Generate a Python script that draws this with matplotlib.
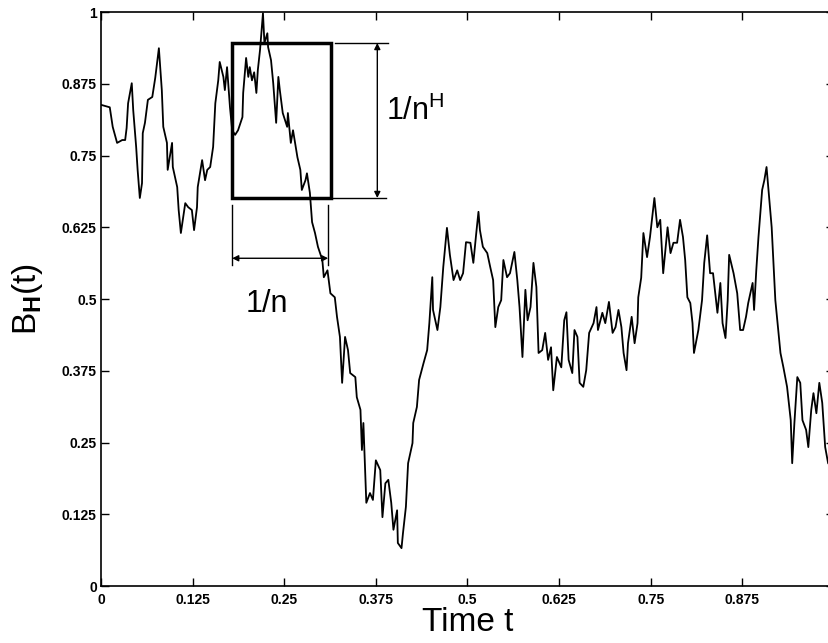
import matplotlib.pyplot as plt
from matplotlib.patches import Rectangle

plt.rcParams['font.family'] = ['Liberation Sans', 'DejaVu Sans']
plt.rcParams['mathtext.fontset'] = 'custom'
plt.rcParams['mathtext.rm'] = 'Liberation Sans'
plt.rcParams['mathtext.bf'] = 'Liberation Sans:bold'

# sample path of fractional brownian motion
t = [0.001, 0.012, 0.016, 0.022, 0.029, 0.033, 0.035, 0.037, 0.042, 0.044,
     0.048, 0.050, 0.053, 0.056, 0.057, 0.060, 0.064, 0.070, 0.074, 0.079,
     0.083, 0.085, 0.090, 0.091, 0.097, 0.098, 0.104, 0.106, 0.109, 0.115,
     0.119, 0.124, 0.127, 0.131, 0.132, 0.138, 0.142, 0.145, 0.149, 0.153,
     0.156, 0.160, 0.162, 0.167, 0.169, 0.172, 0.176, 0.179, 0.183, 0.187,
     0.193, 0.194, 0.198, 0.201, 0.203, 0.206, 0.209, 0.212, 0.214, 0.217,
     0.221, 0.223, 0.227, 0.228, 0.232, 0.235, 0.239, 0.242, 0.244, 0.248,
     0.254, 0.255, 0.259, 0.262, 0.268, 0.272, 0.274, 0.279, 0.281, 0.285,
     0.288, 0.292, 0.296, 0.302, 0.304, 0.309, 0.313, 0.319, 0.322, 0.326,
     0.329, 0.333, 0.337, 0.340, 0.347, 0.349, 0.354, 0.356, 0.358, 0.362,
     0.367, 0.371, 0.375, 0.381, 0.384, 0.388, 0.392, 0.396, 0.399, 0.404,
     0.405, 0.410, 0.412, 0.416, 0.419, 0.425, 0.426, 0.431, 0.434, 0.440,
     0.445, 0.448, 0.452, 0.453, 0.459, 0.463, 0.467, 0.472, 0.476, 0.481,
     0.486, 0.490, 0.494, 0.498, 0.504, 0.508, 0.512, 0.515, 0.517, 0.521,
     0.527, 0.531, 0.535, 0.538, 0.542, 0.546, 0.549, 0.554, 0.558, 0.564,
     0.568, 0.571, 0.575, 0.579, 0.582, 0.586, 0.590, 0.594, 0.597, 0.602,
     0.606, 0.610, 0.614, 0.617, 0.622, 0.628, 0.632, 0.635, 0.638, 0.643,
     0.646, 0.650, 0.653, 0.658, 0.662, 0.666, 0.672, 0.676, 0.678, 0.684,
     0.688, 0.693, 0.698, 0.702, 0.706, 0.710, 0.713, 0.717, 0.719, 0.724,
     0.728, 0.732, 0.733, 0.737, 0.740, 0.745, 0.749, 0.755, 0.759, 0.763,
     0.767, 0.773, 0.777, 0.781, 0.786, 0.790, 0.794, 0.797, 0.800, 0.804,
     0.807, 0.809, 0.815, 0.820, 0.823, 0.827, 0.831, 0.835, 0.841, 0.845,
     0.848, 0.852, 0.855, 0.857, 0.863, 0.868, 0.872, 0.876, 0.880, 0.883,
     0.889, 0.891, 0.894, 0.897, 0.902, 0.905, 0.908, 0.911, 0.915, 0.917,
     0.920, 0.923, 0.927, 0.931, 0.936, 0.941, 0.943, 0.946, 0.950, 0.954,
     0.957, 0.962, 0.965, 0.969, 0.972, 0.976, 0.980, 0.984, 0.988, 0.992,
     1.000]
bh = [0.838, 0.834, 0.800, 0.772, 0.777, 0.777, 0.798, 0.841, 0.876, 0.829,
      0.765, 0.725, 0.676, 0.702, 0.789, 0.807, 0.847, 0.852, 0.885, 0.937,
      0.864, 0.800, 0.772, 0.725, 0.772, 0.730, 0.695, 0.655, 0.615, 0.667,
      0.660, 0.655, 0.620, 0.660, 0.695, 0.742, 0.707, 0.725, 0.730, 0.765,
      0.841, 0.881, 0.913, 0.887, 0.864, 0.904, 0.834, 0.794, 0.786, 0.794,
      0.817, 0.859, 0.920, 0.887, 0.904, 0.881, 0.895, 0.859, 0.899, 0.934,
      0.998, 0.946, 0.963, 0.939, 0.916, 0.876, 0.807, 0.887, 0.864, 0.824,
      0.800, 0.824, 0.772, 0.794, 0.747, 0.725, 0.690, 0.707, 0.719, 0.685,
      0.634, 0.615, 0.591, 0.568, 0.538, 0.550, 0.510, 0.503, 0.469, 0.434,
      0.354, 0.434, 0.411, 0.371, 0.364, 0.329, 0.307, 0.237, 0.284, 0.145,
      0.162, 0.150, 0.219, 0.202, 0.120, 0.179, 0.185, 0.145, 0.098, 0.132,
      0.075, 0.066, 0.092, 0.138, 0.214, 0.249, 0.284, 0.312, 0.359, 0.388,
      0.411, 0.458, 0.538, 0.481, 0.446, 0.486, 0.556, 0.624, 0.577, 0.533,
      0.550, 0.533, 0.545, 0.599, 0.598, 0.563, 0.615, 0.652, 0.620, 0.591,
      0.580, 0.556, 0.533, 0.451, 0.486, 0.498, 0.568, 0.538, 0.545, 0.582,
      0.533, 0.486, 0.399, 0.516, 0.463, 0.486, 0.563, 0.521, 0.406, 0.411,
      0.441, 0.394, 0.416, 0.341, 0.399, 0.381, 0.463, 0.477, 0.394, 0.371,
      0.446, 0.434, 0.354, 0.347, 0.376, 0.441, 0.458, 0.486, 0.446, 0.476,
      0.458, 0.495, 0.441, 0.451, 0.481, 0.451, 0.406, 0.376, 0.423, 0.469,
      0.423, 0.458, 0.503, 0.537, 0.615, 0.573, 0.608, 0.676, 0.625, 0.638,
      0.545, 0.625, 0.580, 0.598, 0.598, 0.638, 0.608, 0.568, 0.503, 0.493,
      0.458, 0.406, 0.446, 0.498, 0.563, 0.611, 0.545, 0.545, 0.476, 0.528,
      0.458, 0.432, 0.498, 0.577, 0.545, 0.510, 0.446, 0.446, 0.469, 0.493,
      0.528, 0.481, 0.550, 0.608, 0.690, 0.707, 0.730, 0.685, 0.625, 0.573,
      0.498, 0.458, 0.406, 0.381, 0.347, 0.289, 0.214, 0.284, 0.364, 0.354,
      0.289, 0.272, 0.242, 0.307, 0.336, 0.301, 0.354, 0.319, 0.242, 0.214,
      0.202]

ticks = [0, 0.125, 0.25, 0.375, 0.5, 0.625, 0.75, 0.875, 1]
y_labels = ['0', '0.125', '0.25', '0.375', '0.5', '0.625', '0.75', '0.875', '1']
x_labels = ['0', '0.125', '0.25', '0.375', '0.5', '0.625', '0.75', '0.875', '']

# the scaling box: 1/n wide, 1/n^H tall
box_t = [0.179, 0.314]
box_b = [0.676, 0.946]

fig = plt.figure(figsize=(8.29, 6.43), dpi=100)
ax = fig.add_axes([0.1218, 0.0886, 0.8842, 0.8927])

ax.plot(t, bh, color='black', lw=1.3)

ax.add_patch(Rectangle((box_t[0], box_b[0]), box_t[1] - box_t[0], box_b[1] - box_b[0],
                       fill=False, ec='black', lw=2.5, zorder=3))

# vertical dimension line (1/n^H)
ax.plot([0.319, 0.392], [box_b[1], box_b[1]], color='black', lw=1)
ax.plot([box_t[1], 0.389], [box_b[0], box_b[0]], color='black', lw=1)
ax.annotate('', xy=(0.377, box_b[0]), xytext=(0.377, box_b[1]),
            arrowprops=dict(arrowstyle='<|-|>', color='black', lw=1,
                            mutation_scale=9, shrinkA=0, shrinkB=0))
ax.text(0.389, 0.812, r'1/n$^{\mathrm{H}}$', fontsize=22, va='baseline', ha='left')

# horizontal dimension line (1/n)
ax.plot([box_t[0], box_t[0]], [0.559, 0.664], color='black', lw=1)
ax.plot([0.310, 0.310], [0.559, 0.664], color='black', lw=1)
ax.annotate('', xy=(0.310, 0.571), xytext=(box_t[0], 0.571),
            arrowprops=dict(arrowstyle='<|-|>', color='black', lw=1,
                            mutation_scale=9, shrinkA=0, shrinkB=0))
ax.text(0.197, 0.477, '1/n', fontsize=22, va='baseline', ha='left')

ax.set_xlim(0, 1)
ax.set_ylim(0, 1)
ax.set_xticks(ticks)
ax.set_xticklabels(x_labels)
ax.set_yticks(ticks)
ax.set_yticklabels(y_labels)
ax.tick_params(direction='in', length=6, width=1, top=True, right=True, labelsize=10)
ax.tick_params(axis='x', pad=5)
ax.tick_params(axis='y', pad=3)
for lab in ax.get_xticklabels() + ax.get_yticklabels():
    lab.set_fontweight('bold')
for s in ax.spines.values():
    s.set_linewidth(1.2)

ax.set_xlabel('Time t', fontsize=24, labelpad=0)
ax.set_ylabel(r'B$_{\mathbf{H}}$(t)', fontsize=24, labelpad=12)

fig.savefig('out.png', dpi=100)
